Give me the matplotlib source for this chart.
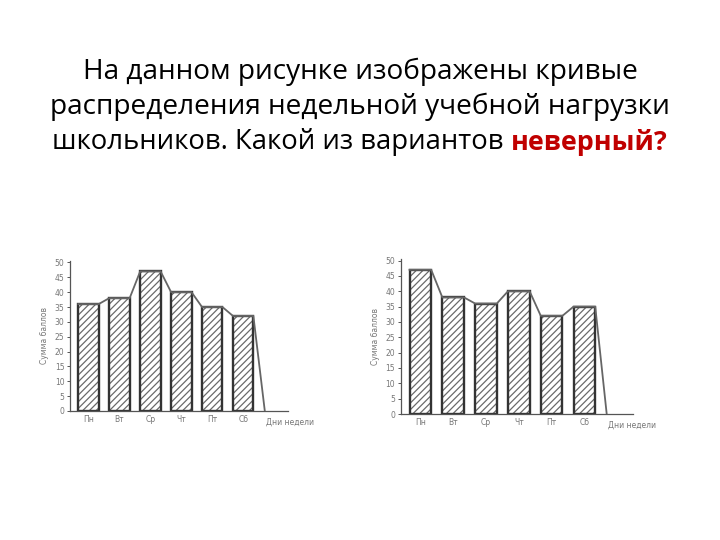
import matplotlib
matplotlib.use("Agg")
from matplotlib import pyplot as plt

days = ["Пн", "Вт", "Ср", "Чт", "Пт", "Сб"]
load_a = [36, 38, 47, 40, 35, 32]
load_b = [47, 38, 36, 40, 32, 35]
yticks = [0, 5, 10, 15, 20, 25, 30, 35, 40, 45, 50]

title_lines = ["На данном рисунке изображены кривые",
               "распределения недельной учебной нагрузки"]
title_last = "школьников. Какой из вариантов "
title_red = "неверный?"

FONT = ["Open Sans", "DejaVu Sans"]
GRAY = "#555555"
plt.rcParams["hatch.linewidth"] = 0.9


def draw_chart(ax, values, zero_x, x_end):
    w = 0.66
    xs = list(range(len(values)))
    # hatching in a lighter gray, outline drawn separately
    ax.bar(xs, values, width=w, color="white", edgecolor="#6a6a6a",
           hatch="/////", linewidth=0, zorder=2)
    ax.bar(xs, values, width=w, color="none", edgecolor="#333333",
           linewidth=1.7, zorder=2.5)
    # curve along the tops of the bars
    px, py = [], []
    for x, v in zip(xs, values):
        px += [x - w / 2, x + w / 2]
        py += [v, v]
    px.append(zero_x)
    py.append(0)
    ax.plot(px, py, color="#666666", linewidth=1.3, zorder=3)
    ax.set_xlim(-0.6, x_end)
    ax.set_ylim(0, 50.5)
    ax.set_yticks(yticks)
    ax.set_yticklabels([str(t) for t in yticks], fontsize=5.5, color="#777777")
    ax.set_xticks(xs)
    ax.set_xticklabels(days, fontsize=5.5, color="#777777")
    ax.tick_params(axis="x", length=0, pad=3)
    ax.tick_params(axis="y", length=2.5, width=0.7, color=GRAY, pad=1.5)
    for s in ["top", "right"]:
        ax.spines[s].set_visible(False)
    for s in ["left", "bottom"]:
        ax.spines[s].set_color(GRAY)
        ax.spines[s].set_linewidth(0.9)
    ax.set_ylabel("Сумма баллов", fontsize=5.5, color="#777777", labelpad=4)
    ax.text(zero_x + 0.05, -2.2, "Дни недели", fontsize=5.5, color="#777777",
            ha="left", va="top")
    ax.set_facecolor("none")


fig = plt.figure(figsize=(7.2, 5.4), dpi=100)

ax1 = fig.add_axes([0.0972, 0.2389, 0.3028, 0.2778])
draw_chart(ax1, load_a, 5.7, 6.45)

ax2 = fig.add_axes([0.5565, 0.2333, 0.3226, 0.287])
draw_chart(ax2, load_b, 5.68, 6.48)

fs = 20.2
fig.text(0.5, 1 - 72 / 540, title_lines[0], ha="center", va="center",
         fontsize=fs, family=FONT)
fig.text(0.5, 1 - 107 / 540, title_lines[1], ha="center", va="center",
         fontsize=fs, family=FONT)

# last line: black part + bold red part, centred together
fig.canvas.draw()
r = fig.canvas.get_renderer()
t1 = fig.text(0, 1 - 142 / 540, title_last, ha="left", va="center",
              fontsize=19.8, family=FONT)
t2 = fig.text(0, 1 - 142 / 540, title_red, ha="left", va="center",
              fontsize=19.4, family=FONT, fontweight="bold", color="#c00000")
w1 = t1.get_window_extent(r).width
w2 = t2.get_window_extent(r).width
total = w1 + w2
x0 = (720 - total) / 2
t1.set_x(x0 / 720)
t2.set_x((x0 + w1) / 720)

fig.savefig("out.png", dpi=100)
